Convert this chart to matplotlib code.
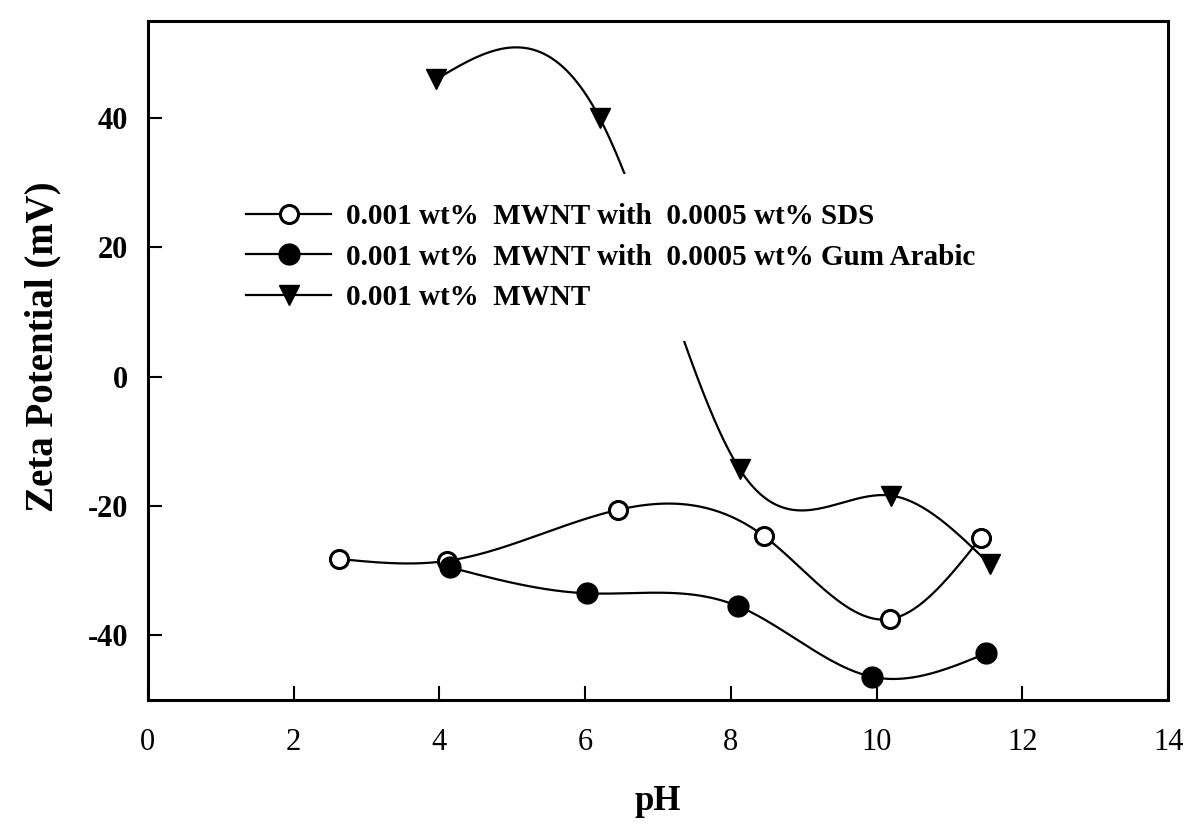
import numpy as np
import matplotlib
matplotlib.use("Agg")
import matplotlib.pyplot as plt

# data (pH vs zeta potential, mV)
sds_ph = [2.63, 4.10, 6.45, 8.46, 10.18, 11.43]
sds_zeta = [-28.2, -28.5, -20.6, -24.7, -37.5, -24.9]

gum_ph = [4.15, 6.02, 8.10, 9.93, 11.50]
gum_zeta = [-29.5, -33.5, -35.5, -46.4, -42.8]

mwnt_ph = [3.96, 6.20, 8.12, 10.20, 11.55]
mwnt_zeta = [46.0, 40.0, -14.3, -18.4, -29.0]

labels = [
    "0.001 wt%  MWNT with  0.0005 wt% SDS",
    "0.001 wt%  MWNT with  0.0005 wt% Gum Arabic",
    "0.001 wt%  MWNT",
]


def natural_spline(x, y, n=300):
    # natural cubic spline through the points, only for drawing the smooth curve
    x = np.asarray(x, float)
    y = np.asarray(y, float)
    k = len(x)
    h = np.diff(x)
    A = np.zeros((k, k))
    r = np.zeros(k)
    A[0, 0] = A[-1, -1] = 1.0
    for i in range(1, k - 1):
        A[i, i - 1] = h[i - 1]
        A[i, i] = 2 * (h[i - 1] + h[i])
        A[i, i + 1] = h[i]
        r[i] = 6 * ((y[i + 1] - y[i]) / h[i] - (y[i] - y[i - 1]) / h[i - 1])
    m = np.linalg.solve(A, r)
    xs = np.linspace(x[0], x[-1], n)
    idx = np.clip(np.searchsorted(x, xs) - 1, 0, k - 2)
    x0, x1 = x[idx], x[idx + 1]
    y0, y1 = y[idx], y[idx + 1]
    m0, m1 = m[idx], m[idx + 1]
    hh = x1 - x0
    a = (x1 - xs) / hh
    b = (xs - x0) / hh
    ys = a * y0 + b * y1 + ((a ** 3 - a) * m0 + (b ** 3 - b) * m1) * hh ** 2 / 6
    return xs, ys


plt.rcParams["font.family"] = ["Liberation Serif", "DejaVu Serif"]
plt.rcParams["axes.unicode_minus"] = False

fig = plt.figure(figsize=(11.92, 8.27), dpi=100)
ax = fig.add_axes([0.124, 0.1536, 0.856, 0.821])

series = [
    (sds_ph, sds_zeta, dict(marker="o", mfc="white", mec="black", ms=13, mew=2.2)),
    (gum_ph, gum_zeta, dict(marker="o", mfc="black", mec="black", ms=15)),
    (mwnt_ph, mwnt_zeta, dict(marker="v", mfc="black", mec="black", ms=15)),
]

handles = []
for (px, pz, style), lab in zip(series, labels):
    xs, ys = natural_spline(px, pz)
    ax.plot(xs, ys, color="black", lw=1.6, zorder=2)
    ax.plot(px, pz, ls="none", zorder=3, **style)
    h, = ax.plot([], [], color="black", lw=1.6, label=lab, **style)
    handles.append(h)

leg = ax.legend(handles=handles, loc="upper left", bbox_to_anchor=(0.068, 0.775),
                frameon=True, facecolor="white", edgecolor="none", framealpha=1,
                fancybox=False, handlelength=2.9, handletextpad=0.5,
                labelspacing=0.47, borderpad=1.0, borderaxespad=0,
                prop={"weight": "bold", "size": 21})
leg.set_zorder(10)

ax.set_xlim(0, 14)
ax.set_ylim(-50, 55)
ax.set_xticks(np.arange(0, 15, 2))
ax.set_yticks([-40, -20, 0, 20, 40])
ax.tick_params(direction="in", length=10, width=1.5)
ax.tick_params(axis="x", labelsize=22, pad=20)
ax.tick_params(axis="y", labelsize=22, pad=14)
for t in ax.get_yticklabels():
    t.set_fontweight("bold")
for s in ax.spines.values():
    s.set_linewidth(2.2)

ax.set_xlabel("pH", fontsize=25, fontweight="bold", labelpad=20)
ax.set_ylabel("Zeta Potential (mV)", fontsize=28, fontweight="bold")
ax.yaxis.set_label_coords(-0.085, 0.52)

fig.savefig("out.png", dpi=100)
